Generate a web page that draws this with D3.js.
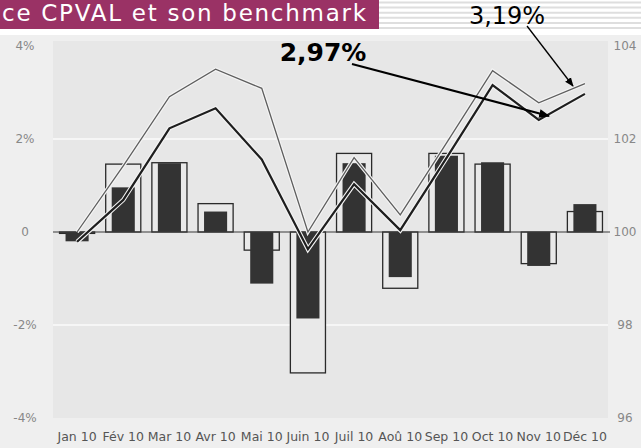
<!DOCTYPE html>
<html>
<head>
<meta charset="utf-8">
<script src="https://cdn.jsdelivr.net/npm/d3@7"></script>
<style>
  html, body { margin: 0; padding: 0; background: #ffffff; }
  svg { display: block; }
</style>
</head>
<body>
<svg id="chart" width="641" height="448"></svg>
<script>
// données
const months = ["Jan 10","Fév 10","Mar 10","Avr 10","Mai 10","Juin 10","Juil 10","Aoû 10","Sep 10","Oct 10","Nov 10","Déc 10"];
// perf mensuelle benchmark (barres creuses) et CPVAL (barres pleines), en %
const benchMonthly = [-0.03, 1.46, 1.49, 0.61, -0.39, -3.03, 1.69, -1.21, 1.69, 1.46, -0.68, 0.44];
const cpvalMonthly = [-0.20, 0.96, 1.48, 0.44, -1.11, -1.86, 1.48, -0.97, 1.64, 1.50, -0.73, 0.60];
// indices base 100
const benchIndex = [100.0, 101.42, 102.91, 103.50, 103.09, 100.0, 101.60, 100.37, 101.91, 103.47, 102.78, 103.19];
const cpvalIndex = [99.79, 100.69, 102.23, 102.66, 101.56, 99.63, 101.03, 100.04, 101.59, 103.16, 102.41, 102.97];
const leftTicks = [-4, -2, 0, 2, 4];
const rightTicks = [96, 98, 100, 102, 104];

const svg = d3.select("#chart")
  .attr("font-family", "DejaVu Sans, Verdana, sans-serif");

const plot = {left: 53, right: 608, top: 41, bottom: 418};

const x = d3.scaleBand().domain(months).range([54, 608]);
const xc = d => x(d) + x.bandwidth() / 2;
const yL = d3.scaleLinear().domain([-4, 4]).range([418, 46]);
const yR = d3.scaleLinear().domain([96, 104]).range([418, 46]);

// fond
svg.append("rect").attr("x", 0).attr("y", 0).attr("width", 641).attr("height", 448).attr("fill", "#ffffff");
svg.append("rect").attr("x", 0).attr("y", 35).attr("width", 641).attr("height", 413).attr("fill", "#efefef");
svg.append("rect")
  .attr("x", plot.left).attr("y", plot.top)
  .attr("width", plot.right - plot.left).attr("height", plot.bottom - plot.top)
  .attr("fill", "#e7e7e7");

// bandeau titre
svg.append("g").selectAll("line")
  .data(d3.range(6))
  .join("line")
    .attr("x1", 379).attr("x2", 641)
    .attr("y1", i => 2.5 + i * 5.1).attr("y2", i => 2.5 + i * 5.1)
    .attr("stroke", "#dedede").attr("stroke-width", 2);
svg.append("rect").attr("x", 0).attr("y", 0).attr("width", 379).attr("height", 29).attr("fill", "#9a3265");
svg.append("text")
  .attr("x", 2).attr("y", 21)
  .attr("font-size", 23)
  .attr("textLength", 364).attr("lengthAdjust", "spacing")
  .attr("fill", "#ffffff")
  .text("ce CPVAL et son benchmark");

// grille
svg.append("g").selectAll("line")
  .data([-2, 2])
  .join("line")
    .attr("x1", plot.left).attr("x2", plot.right)
    .attr("y1", d => yL(d)).attr("y2", d => yL(d))
    .attr("stroke", "#fbfbfb").attr("stroke-width", 1.5);

// barres
const bw = x.bandwidth();
svg.append("g").selectAll("rect")
  .data(benchMonthly)
  .join("rect")
    .attr("x", (d, i) => xc(months[i]) - bw * 0.38)
    .attr("width", bw * 0.76)
    .attr("y", d => Math.min(yL(d), yL(0)))
    .attr("height", d => Math.abs(yL(d) - yL(0)))
    .attr("fill", "#e9e9e9")
    .attr("stroke", "#2a2a2a").attr("stroke-width", 1.3);

svg.append("g").selectAll("rect")
  .data(cpvalMonthly)
  .join("rect")
    .attr("x", (d, i) => xc(months[i]) - bw * 0.25)
    .attr("width", bw * 0.5)
    .attr("y", d => Math.min(yL(d), yL(0)))
    .attr("height", d => Math.abs(yL(d) - yL(0)))
    .attr("fill", "#333333");

// ligne zéro
svg.append("line")
  .attr("x1", plot.left).attr("x2", 610)
  .attr("y1", yL(0)).attr("y2", yL(0))
  .attr("stroke", "#3a3a3a").attr("stroke-width", 1.2);

// courbes
const line = d3.line().x((d, i) => xc(months[i])).y(d => yR(d));
svg.append("path").datum(benchIndex).attr("d", line)
  .attr("fill", "none").attr("stroke", "#f4f4f4").attr("stroke-width", 3.6);
svg.append("path").datum(benchIndex).attr("d", line)
  .attr("fill", "none").attr("stroke", "#5e5e5e").attr("stroke-width", 1.3);
svg.append("path").datum(cpvalIndex).attr("d", line)
  .attr("fill", "none").attr("stroke", "#f4f4f4").attr("stroke-width", 4.4);
svg.append("path").datum(cpvalIndex).attr("d", line)
  .attr("fill", "none").attr("stroke", "#1e1e1e").attr("stroke-width", 2.2);

// axes
const axL = svg.append("g")
  .attr("transform", "translate(25,0)")
  .call(d3.axisLeft(yL).tickValues(leftTicks).tickSize(0)
    .tickFormat(d => d === 0 ? "0" : d + "%"));
const axR = svg.append("g")
  .attr("transform", "translate(625,0)")
  .call(d3.axisRight(yR).tickValues(rightTicks).tickSize(0));
[axL, axR].forEach(ax => {
  ax.select(".domain").remove();
  ax.selectAll("text")
    .attr("x", 0).attr("text-anchor", "middle")
    .attr("font-family", "DejaVu Sans, Verdana, sans-serif")
    .attr("font-size", 12).attr("fill", "#888888");
});

const axB = svg.append("g")
  .attr("transform", "translate(0,424)")
  .call(d3.axisBottom(x).tickSize(0));
axB.select(".domain").remove();
axB.selectAll("text")
  .attr("y", 8)
  .attr("font-family", "DejaVu Sans, Verdana, sans-serif")
  .attr("font-size", 12.5).attr("fill", "#555555");

// annotations
const defs = svg.append("defs");
defs.append("marker")
  .attr("id", "arr").attr("viewBox", "0 0 10 10")
  .attr("refX", 9).attr("refY", 5)
  .attr("markerWidth", 5).attr("markerHeight", 5)
  .attr("orient", "auto").attr("markerUnits", "strokeWidth")
  .append("path").attr("d", "M0,1L10,5L0,9z").attr("fill", "#000");
defs.append("marker")
  .attr("id", "arr2").attr("viewBox", "0 0 10 10")
  .attr("refX", 9).attr("refY", 5)
  .attr("markerWidth", 7).attr("markerHeight", 7)
  .attr("orient", "auto").attr("markerUnits", "strokeWidth")
  .append("path").attr("d", "M0,1L10,5L0,9z").attr("fill", "#000");

svg.append("text")
  .attr("x", 323).attr("y", 61)
  .attr("text-anchor", "middle")
  .attr("font-size", 25).attr("font-weight", "bold").attr("fill", "#000")
  .text("2,97%");
svg.append("line")
  .attr("x1", 352).attr("y1", 64).attr("x2", 549).attr("y2", 116)
  .attr("stroke", "#000").attr("stroke-width", 2.2)
  .attr("marker-end", "url(#arr)");

svg.append("text")
  .attr("x", 507).attr("y", 24)
  .attr("text-anchor", "middle")
  .attr("font-size", 24).attr("fill", "#000")
  .text("3,19%");
svg.append("line")
  .attr("x1", 527).attr("y1", 26).attr("x2", 573).attr("y2", 86)
  .attr("stroke", "#000").attr("stroke-width", 1.3)
  .attr("marker-end", "url(#arr2)");
</script>
</body>
</html>
